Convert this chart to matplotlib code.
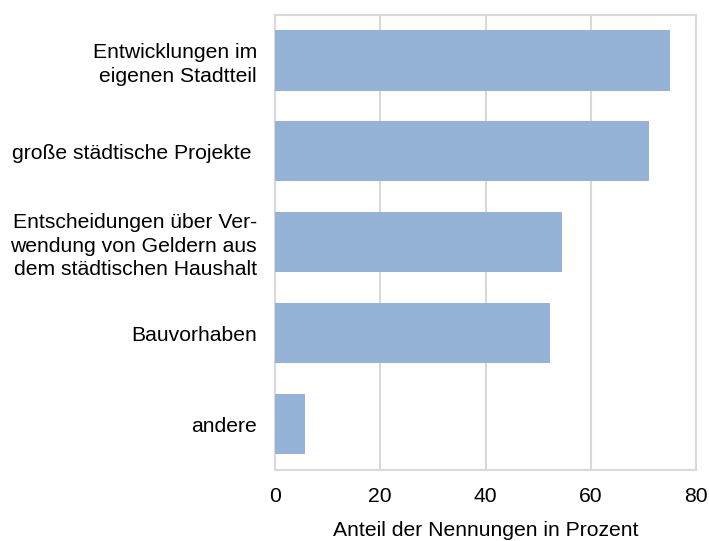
import matplotlib
matplotlib.use("Agg")
import matplotlib.pyplot as plt

categories = [
    "Entwicklungen im\neigenen Stadtteil",
    "große städtische Projekte ",
    "Entscheidungen über Ver-\nwendung von Geldern aus\ndem städtischen Haushalt",
    "Bauvorhaben",
    "andere",
]
values = [75.0, 71.0, 54.6, 52.3, 5.7]
xticks = [0, 20, 40, 60, 80]
xlabel = "Anteil der Nennungen in Prozent"

plt.rcParams['font.family'] = ['Liberation Sans', 'DejaVu Sans']

fig = plt.figure(figsize=(7.09, 5.41), dpi=100)
ax = fig.add_axes([275/709, 1-469.5/541, (696-275)/709, (469.5-14.7)/541])

y = list(range(len(categories)))
ax.barh(y, values, height=0.667, color="#95B3D7", zorder=3)
ax.set_ylim(len(categories)-0.5, -0.5)
ax.set_xlim(0, 80)
ax.set_xticks(xticks)
ax.set_xticklabels([str(t) for t in xticks])
ax.set_yticks(y)
ax.set_yticklabels(categories, linespacing=1.3)
ax.tick_params(axis='both', length=0, labelsize=15.2, colors='black')
ax.tick_params(axis='y', pad=13)
ax.tick_params(axis='x', pad=12.5)
ax.grid(axis='x', color='#d9d9d9', linewidth=1.5, zorder=0)
for s in ax.spines.values():
    s.set_color('#d9d9d9')
    s.set_linewidth(1.5)
ax.set_xlabel(xlabel, fontsize=15.2, labelpad=11)

fig.savefig("out.png", dpi=100)
